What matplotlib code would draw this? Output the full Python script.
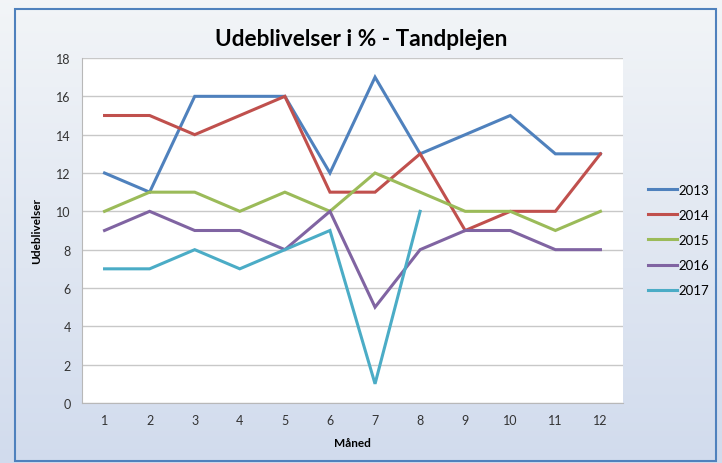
import numpy as np
import matplotlib
matplotlib.use("Agg")
import matplotlib.pyplot as plt
from matplotlib.patches import Rectangle

plt.rcParams['font.family'] = ['Lato', 'DejaVu Sans']

maaned = [1, 2, 3, 4, 5, 6, 7, 8, 9, 10, 11, 12]
aar_2013 = [12, 11, 16, 16, 16, 12, 17, 13, 14, 15, 13, 13]
aar_2014 = [15, 15, 14, 15, 16, 11, 11, 13, 9, 10, 10, 13]
aar_2015 = [10, 11, 11, 10, 11, 10, 12, 11, 10, 10, 9, 10]
aar_2016 = [9, 10, 9, 9, 8, 10, 5, 8, 9, 9, 8, 8]
aar_2017 = [7, 7, 8, 7, 8, 9, 1, 10]

serier = [
    ("2013", aar_2013, "#4F81BD"),
    ("2014", aar_2014, "#C0504D"),
    ("2015", aar_2015, "#9BBB59"),
    ("2016", aar_2016, "#8064A2"),
    ("2017", aar_2017, "#4BACC6"),
]

W, H = 722, 464
fig = plt.figure(figsize=(W / 100, H / 100), dpi=100)

# baggrund med gradient (hvid -> lyseblaa)
bg = fig.add_axes([0, 0, 1, 1], zorder=0)
grad = np.linspace(0, 1, 256).reshape(-1, 1)
top = np.array([0.95, 0.96, 0.97])
bund = np.array([0.82, 0.86, 0.93])
img = top + grad[..., None] * (bund - top)
bg.imshow(img, aspect="auto", extent=[0, 1, 0, 1])
bg.add_patch(Rectangle((15 / W, 1 - 462 / H), 701 / W, 452 / H,
                       fill=False, edgecolor="#4F81BD", linewidth=1.5))
bg.set_xlim(0, 1)
bg.set_ylim(0, 1)
bg.axis("off")

ax = fig.add_axes([82 / W, 1 - 404 / H, 541 / W, 345 / H], zorder=1)
ax.set_facecolor("white")

for navn, vaerdier, farve in serier:
    ax.plot(maaned[:len(vaerdier)], vaerdier, color=farve, linewidth=2.2,
            label=navn, solid_joinstyle="miter")

ax.set_xlim(0.5, 12.5)
ax.set_ylim(0, 18)
ax.set_xticks(maaned)
ax.set_yticks(range(0, 19, 2))
ax.grid(axis="y", color="#c8c8c8", linewidth=1)
ax.set_axisbelow(True)
for side in ["top", "right"]:
    ax.spines[side].set_visible(False)
for side in ["left", "bottom"]:
    ax.spines[side].set_color("#b8b8b8")
ax.tick_params(length=0, labelsize=9, colors="#333333", pad=8)

ax.set_xlabel("Måned", fontsize=8.5, fontweight="bold", labelpad=8)
ax.set_ylabel("Udeblivelser", fontsize=8.5, fontweight="bold", labelpad=10)

fig.text(361.5 / W, 1 - 39 / H, "Udeblivelser i % - Tandplejen",
         ha="center", va="center", fontsize=16.3, fontweight="bold")

fig.legend(loc="center left", bbox_to_anchor=(636 / W, 1 - 241 / H),
           frameon=False, fontsize=9.5, handlelength=2.2, handletextpad=0.15,
           labelspacing=1.0)

fig.savefig("out.png", dpi=100)
